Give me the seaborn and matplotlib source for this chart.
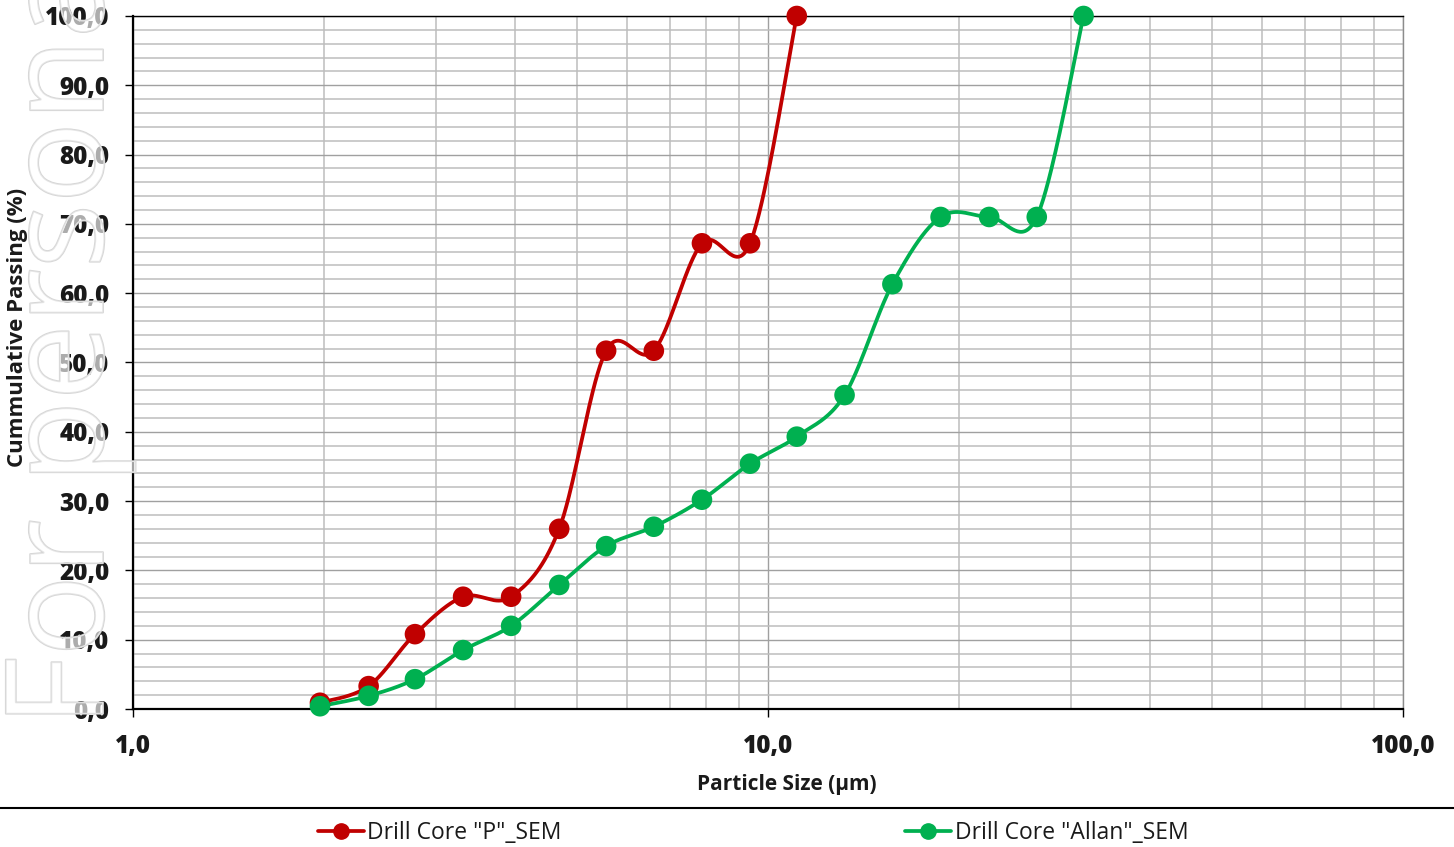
import matplotlib
matplotlib.use("Agg")
import matplotlib.pyplot as plt
import matplotlib.patheffects as pe
from matplotlib.lines import Line2D
from matplotlib.ticker import FixedLocator, FuncFormatter, MultipleLocator
import numpy as np
import pandas as pd
import seaborn as sns

# Datos
size_p = [1.97, 2.35, 2.78, 3.31, 3.94, 4.69, 5.56, 6.61, 7.87, 9.37, 11.1]
pass_p = [0.9, 3.3, 10.8, 16.2, 16.2, 26.0, 51.7, 51.7, 67.2, 67.2, 100.0]

size_allan = [1.97, 2.35, 2.78, 3.31, 3.94, 4.69, 5.56, 6.61, 7.87, 9.37,
              11.1, 13.2, 15.7, 18.7, 22.3, 26.5, 31.4]
pass_allan = [0.4, 1.9, 4.3, 8.5, 12.0, 17.9, 23.5, 26.3, 30.2, 35.4,
              39.3, 45.3, 61.3, 71.0, 71.0, 71.0, 100.0]

series_names = ['Drill Core "P"_SEM', 'Drill Core "Allan"_SEM']
colors = ["#c00000", "#00b050"]


def excel_smooth(xs, ys, n=40):
    # curva suavizada tipo Excel (Bezier / Catmull-Rom) en espacio log(x)
    px = np.log10(np.asarray(xs, float))
    py = np.asarray(ys, float)
    m = len(px)
    out_x, out_y = [], []
    t = np.linspace(0, 1, n)
    for i in range(m - 1):
        a = max(i - 1, 0)
        b = min(i + 2, m - 1)
        p0 = np.array([px[i], py[i]])
        p3 = np.array([px[i + 1], py[i + 1]])
        p1 = p0 + (p3 - np.array([px[a], py[a]])) / 6
        p2 = p3 - (np.array([px[b], py[b]]) - p0) / 6
        pts = ((1 - t)[:, None] ** 3 * p0 + 3 * ((1 - t) ** 2 * t)[:, None] * p1
               + 3 * ((1 - t) * t ** 2)[:, None] * p2 + (t ** 3)[:, None] * p3)
        out_x.extend(10 ** pts[:, 0])
        out_y.extend(pts[:, 1])
    return out_x, out_y


pts_df = pd.concat([
    pd.DataFrame({"size": size_p, "passing": pass_p, "serie": series_names[0]}),
    pd.DataFrame({"size": size_allan, "passing": pass_allan, "serie": series_names[1]}),
])
sx1, sy1 = excel_smooth(size_p, pass_p)
sx2, sy2 = excel_smooth(size_allan, pass_allan)
curve_df = pd.concat([
    pd.DataFrame({"size": sx1, "passing": sy1, "serie": series_names[0]}),
    pd.DataFrame({"size": sx2, "passing": sy2, "serie": series_names[1]}),
])

sns.set_theme(style="white")
plt.rcParams["font.family"] = ["Open Sans", "DejaVu Sans"]

fig = plt.figure(figsize=(14.54, 8.47), dpi=100)
ax = fig.add_axes([133 / 1454, 1 - 709 / 847, 1270 / 1454, 693 / 847])

palette = dict(zip(series_names, colors))
sns.lineplot(data=curve_df, x="size", y="passing", hue="serie", palette=palette,
             sort=False, estimator=None, linewidth=2.7, legend=False, ax=ax, zorder=3)
sns.scatterplot(data=pts_df, x="size", y="passing", hue="serie", palette=palette,
                s=220, edgecolor="none", legend=False, ax=ax, zorder=4, clip_on=False)

ax.set_xscale("log")
ax.set_xlim(1, 100)
ax.set_ylim(0, 100)

fmt = FuncFormatter(lambda v, p: f"{v:.1f}".replace(".", ","))
ax.xaxis.set_major_locator(FixedLocator([1, 10, 100]))
ax.xaxis.set_minor_locator(FixedLocator([k * d for d in (1, 10) for k in range(2, 10)]))
ax.xaxis.set_major_formatter(fmt)
ax.xaxis.set_minor_formatter(FuncFormatter(lambda v, p: ""))
ax.yaxis.set_major_locator(MultipleLocator(10))
ax.yaxis.set_minor_locator(MultipleLocator(2))
ax.yaxis.set_major_formatter(fmt)

ax.grid(which="major", color="#a0a0a0", linewidth=1.0)
ax.grid(which="minor", color="#bdbdbd", linewidth=1.1)
ax.set_axisbelow(True)

for side in ["top", "right"]:
    ax.spines[side].set_color("#000000")
    ax.spines[side].set_linewidth(1.0)
for side in ["left", "bottom"]:
    ax.spines[side].set_color("#000000")
    ax.spines[side].set_linewidth(1.6)
ax.spines["right"].set_color("#8c8c8c")

ax.tick_params(axis="both", which="major", direction="out", length=6, width=1,
               color="#000000", labelsize=17.5, labelcolor="#1a1a1a", bottom=True, left=True)
ax.tick_params(axis="y", which="major", pad=11)
ax.tick_params(axis="x", which="major", pad=12)
ax.tick_params(axis="both", which="minor", length=0)
for lab in ax.get_xticklabels() + ax.get_yticklabels():
    lab.set_fontweight("heavy")

ax.set_xlabel("Particle Size (µm)", fontsize=15, fontweight="bold", color="#1a1a1a")
ax.xaxis.set_label_coords(0.515, -0.094)
ax.set_ylabel("Cummulative Passing (%)", fontsize=16, fontweight="bold",
              color="#1a1a1a")
ax.yaxis.set_label_coords(-0.083, 0.551)

# marca de agua (semitransparente, por encima de las etiquetas)
fig.text(0.0, 1 - 727 / 847, "For personal", rotation=90, fontsize=98,
         color=(1, 1, 1, 0.4), family="Open Sans", ha="left", va="bottom", zorder=5,
         path_effects=[pe.Stroke(linewidth=1.3, foreground="#d6d6d6"), pe.Normal()])

# linea separadora y leyenda
fig.add_artist(Line2D([0, 1], [1 - 808 / 847, 1 - 808 / 847], color="black", linewidth=1.5))
handles = [Line2D([], [], color=c, linewidth=2.7, marker="o", markersize=11) for c in colors]
fig.legend(handles, series_names, loc="center", bbox_to_anchor=(0.518, 1 - 833 / 847),
           ncol=2, frameon=False, fontsize=16.5, handlelength=2.0, handletextpad=0.15,
           columnspacing=15, labelcolor="#1a1a1a")

fig.savefig("out.png", dpi=100)
